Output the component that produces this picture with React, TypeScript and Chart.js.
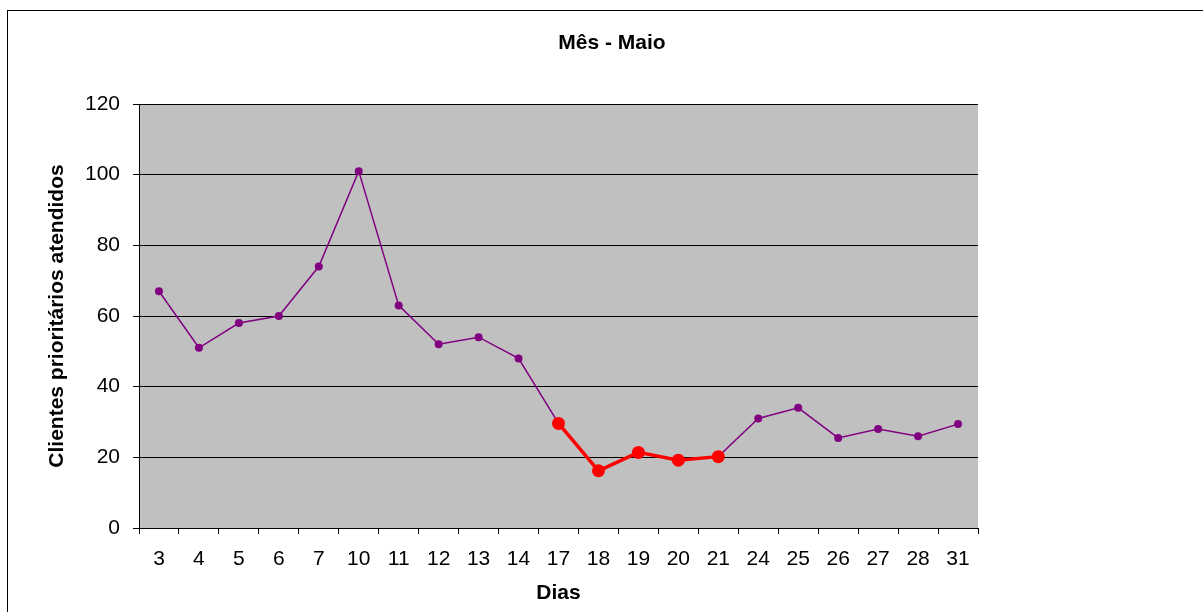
import React, { useEffect, useRef } from "react";
import { Chart, registerables } from "chart.js";

Chart.register(...registerables);

const days = ["3", "4", "5", "6", "7", "10", "11", "12", "13", "14", "17", "18", "19", "20", "21", "24", "25", "26", "27", "28", "31"];
const clientes = [67, 51, 58, 60, 74, 101, 63, 52, 54, 48, 29.6, 16.2, 21.4, 19.2, 20.2, 31, 34, 25.5, 28, 26, 29.4];
const destaque = [null, null, null, null, null, null, null, null, null, null, 29.6, 16.2, 21.4, 19.2, 20.2, null, null, null, null, null, null];
const chartTitle = "Mês - Maio";
const xTitle = "Dias";
const yTitle = "Clientes prioritários atendidos";

const FONT = "Arial, 'Liberation Sans', Helvetica, sans-serif";

export default function App() {
  const ref = useRef<HTMLCanvasElement | null>(null);

  useEffect(() => {
    if (!ref.current) return;
    const bgPlugin = {
      id: "plotBg",
      beforeDraw(chart: any) {
        const { ctx, chartArea } = chart;
        ctx.save();
        ctx.fillStyle = "#C0C0C0";
        ctx.fillRect(chartArea.left, chartArea.top, chartArea.right - chartArea.left, chartArea.bottom - chartArea.top);
        ctx.restore();
      },
    };
    const titlePlugin = {
      id: "customTitle",
      afterDraw(chart: any) {
        const { ctx } = chart;
        ctx.save();
        ctx.fillStyle = "#000";
        ctx.font = `bold 21px ${FONT}`;
        ctx.textAlign = "center";
        ctx.textBaseline = "middle";
        ctx.fillText(chartTitle, 612, 43);
        ctx.restore();
      },
    };
    const chart = new Chart(ref.current, {
      type: "line",
      data: {
        labels: days,
        datasets: [
          {
            label: "Destaque",
            data: destaque as any,
            borderColor: "#FF0000",
            backgroundColor: "#FF0000",
            borderWidth: 3.5,
            pointRadius: 6.5,
            pointBorderWidth: 0,
            pointBackgroundColor: "#FF0000",
            spanGaps: false,
            order: 0,
          },
          {
            label: "Clientes",
            data: clientes,
            borderColor: "#800080",
            backgroundColor: "#800080",
            borderWidth: 1.5,
            pointRadius: 4,
            pointBorderWidth: 0,
            pointBackgroundColor: "#800080",
            order: 1,
          },
        ],
      },
      options: {
        animation: false,
        responsive: false,
        maintainAspectRatio: false,
        layout: { padding: { left: 30, right: 225, top: 104, bottom: 0 } },
        plugins: {
          legend: { display: false },
          title: { display: false },
          tooltip: { enabled: false },
        },
        scales: {
          x: {
            offset: true,
            grid: {
              offset: true,
              drawOnChartArea: false,
              drawTicks: true,
              tickLength: 6,
              color: "#000",
              lineWidth: 1,
            },
            border: { color: "#000", width: 1 },
            ticks: { color: "#000", font: { family: FONT, size: 21 }, padding: 13, maxRotation: 0, autoSkip: false },
            title: {
              display: true,
              text: xTitle,
              color: "#000",
              font: { family: FONT, size: 21, weight: "bold" },
              padding: { top: 0, bottom: 6 },
            },
            afterFit(scale: any) {
              scale.height = 84;
            },
          },
          y: {
            min: 0,
            max: 120,
            grid: {
              color: "#000",
              lineWidth: 1,
              drawTicks: true,
              tickLength: 6,
            },
            border: { color: "#000", width: 1 },
            ticks: { stepSize: 20, color: "#000", font: { family: FONT, size: 21 }, padding: 13 },
            title: {
              display: true,
              text: yTitle,
              color: "#000",
              font: { family: FONT, size: 21, weight: "bold" },
              padding: { top: 15, bottom: 0 },
            },
            afterFit(scale: any) {
              scale.width = 109;
            },
          },
        },
      },
      plugins: [bgPlugin, titlePlugin],
    });
    return () => chart.destroy();
  }, []);

  return (
    <div style={{ position: "fixed", left: 0, top: 0, width: 1203, height: 612, overflow: "hidden", background: "#fff" }}>
      <div style={{ position: "absolute", left: 7, top: 10, width: 1220, height: 640, border: "1px solid #000" }} />
      <canvas ref={ref} width={1203} height={612} style={{ position: "absolute", left: 0, top: 0, width: 1203, height: 612 }} />
    </div>
  );
}
